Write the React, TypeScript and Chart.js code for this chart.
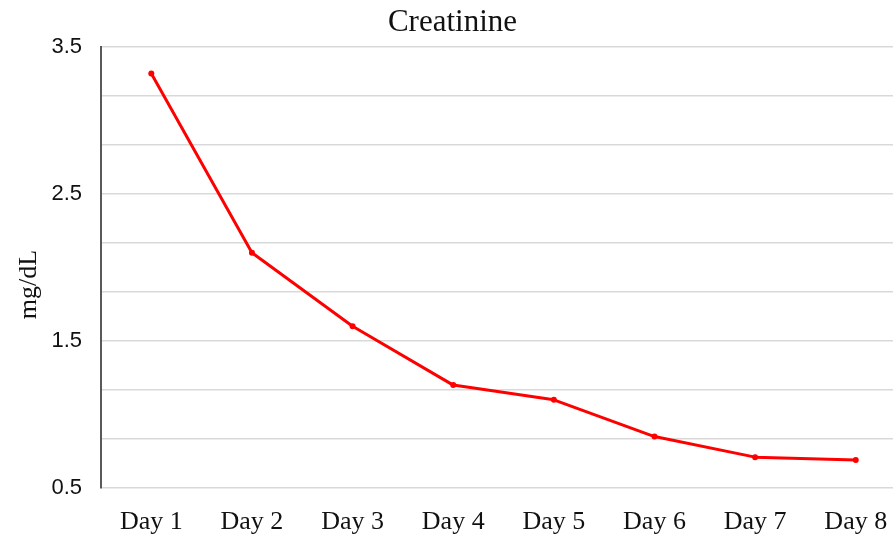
import React, { useEffect, useRef } from "react";
import { Chart, registerables } from "chart.js";

Chart.register(...registerables);

const days = ["Day 1", "Day 2", "Day 3", "Day 4", "Day 5", "Day 6", "Day 7", "Day 8"];
const creatinine = [3.32, 2.1, 1.6, 1.2, 1.1, 0.85, 0.71, 0.69];
const yLabelTicks = [0.5, 1.5, 2.5, 3.5];
const yGridTicks = [0.5, 5 / 6, 7 / 6, 1.5, 11 / 6, 13 / 6, 2.5, 17 / 6, 19 / 6, 3.5];
const chartTitle = "Creatinine";
const yTitle = "mg/dL";

const X_MIN = 0.5;
const X_MAX = 8.37;

const SERIF = "'Liberation Serif', 'Times New Roman', serif";
const SANS = "'Liberation Sans', Arial, sans-serif";

const textPlugin = {
  id: "extraText",
  afterDraw(chart: any) {
    const ctx = chart.ctx;
    ctx.save();
    ctx.fillStyle = "#111";
    ctx.textAlign = "center";
    ctx.textBaseline = "middle";
    ctx.font = `31px ${SERIF}`;
    ctx.fillText(chartTitle, 452.5, 23);
    ctx.translate(29.5, 284.5);
    ctx.rotate(-Math.PI / 2);
    ctx.font = `26px ${SERIF}`;
    ctx.fillText(yTitle, 0, 0);
    ctx.restore();
  },
};

export default function App() {
  const ref = useRef<HTMLCanvasElement | null>(null);
  useEffect(() => {
    document.body.style.margin = "0";
    if (!ref.current) return;
    const chart = new Chart(ref.current, {
      type: "line",
      data: {
        datasets: [
          {
            label: chartTitle,
            data: creatinine.map((v, i) => ({ x: i + 1, y: v })),
            borderColor: "#ff0000",
            backgroundColor: "#ff0000",
            borderWidth: 3,
            pointRadius: 3,
            pointHoverRadius: 3,
            pointBorderWidth: 0,
            tension: 0,
            borderJoinStyle: "round",
          },
        ],
      },
      options: {
        animation: false,
        responsive: false,
        layout: { autoPadding: false, padding: { top: 47, right: 0, left: 0, bottom: 0 } },
        plugins: {
          legend: { display: false },
          title: { display: false },
          tooltip: { enabled: false },
        },
        scales: {
          x: {
            type: "linear",
            min: X_MIN,
            max: X_MAX,
            afterBuildTicks: (s: any) => {
              s.ticks = days.map((_, i) => ({ value: i + 1 }));
              s.min = X_MIN;
              s.max = X_MAX;
            },
            afterFit: (s: any) => {
              s.height = 47;
              s.paddingLeft = 0;
              s.paddingRight = 0;
            },
            grid: { display: false, drawTicks: false },
            border: { display: false },
            ticks: {
              autoSkip: false,
              maxRotation: 0,
              padding: 19,
              color: "#111",
              font: { family: SERIF, size: 26 },
              callback: (v: any) => days[Math.round(Number(v)) - 1] ?? "",
            },
          },
          y: {
            type: "linear",
            min: 0.5,
            max: 3.5,
            afterBuildTicks: (s: any) => {
              s.ticks = yGridTicks.map((v) => ({ value: v }));
              s.min = 0.5;
              s.max = 3.5;
            },
            afterFit: (s: any) => {
              s.width = 101;
              s.paddingTop = 0;
              s.paddingBottom = 0;
            },
            grid: { color: "#d9d9d9", lineWidth: 1.5, drawTicks: false },
            border: { display: true, color: "#595959", width: 2 },
            ticks: {
              autoSkip: false,
              padding: 19,
              color: "#111",
              font: { family: SANS, size: 22 },
              callback: (v: any) => {
                const n = Number(v);
                const hit = yLabelTicks.find((t) => Math.abs(t - n) < 1e-6);
                return hit !== undefined ? hit.toFixed(1) : "";
              },
            },
          },
        },
      },
      plugins: [textPlugin],
    });
    return () => chart.destroy();
  }, []);
  return (
    <div style={{ width: 893, height: 535, background: "#fff" }}>
      <canvas ref={ref} width={893} height={535} style={{ display: "block" }} />
    </div>
  );
}
